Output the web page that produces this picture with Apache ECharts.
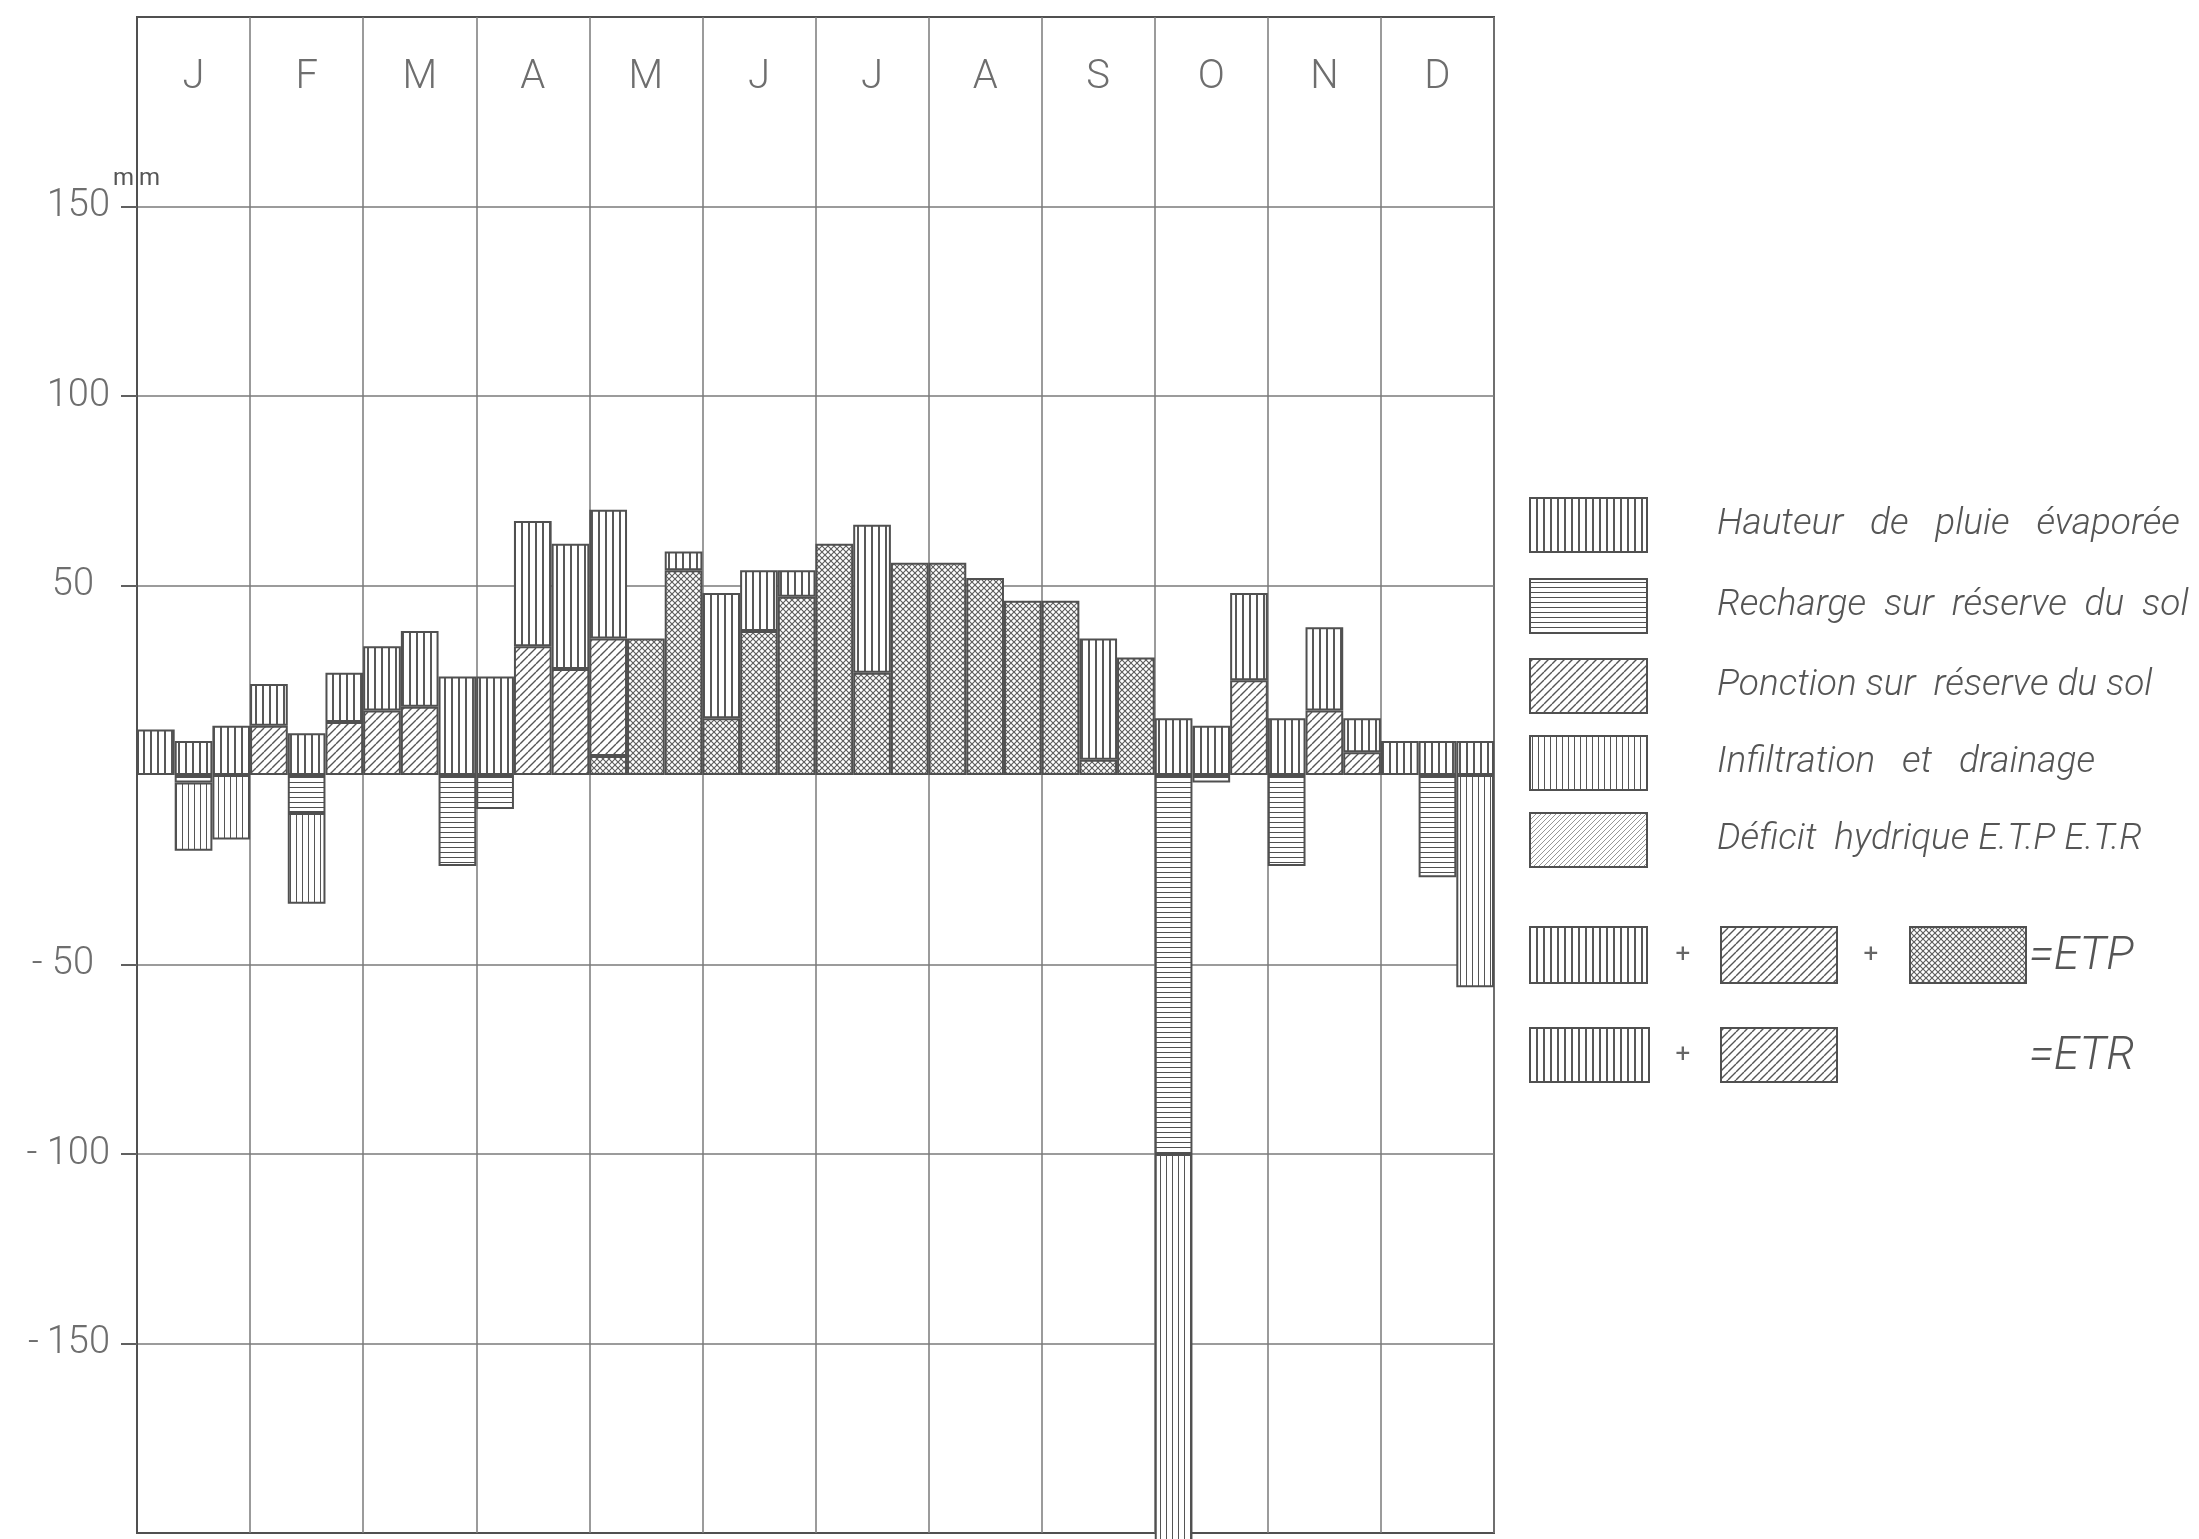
<!DOCTYPE html>
<html>
<head>
<meta charset="utf-8">
<script src="https://cdn.jsdelivr.net/npm/echarts@6/dist/echarts.min.js"></script>
<style>
  html, body { margin: 0; padding: 0; background: #fff; }
  #chart { width: 2199px; height: 1539px; }
</style>
</head>
<body>
<div id="chart"></div>
<script>
// Bilan hydrique par décade (3 décades par mois), en mm
const months = ['J', 'F', 'M', 'A', 'M', 'J', 'J', 'A', 'S', 'O', 'N', 'D'];
const decades = ['J1','J2','J3','F1','F2','F3','M1','M2','M3','A1','A2','A3',
                 'M1','M2','M3','J1','J2','J3','J1','J2','J3','A1','A2','A3',
                 'S1','S2','S3','O1','O2','O3','N1','N2','N3','D1','D2','D3'].map((d, i) => d + '_' + i);

// Déficit hydrique (ETP - ETR)
const deficit     = [0, 0, 0,  0, 0, 0,  0, 0, 0,  0, 0, 0,
                     5, 36, 54,  15, 38, 47,  61, 27, 56,  56, 52, 46,
                     46, 4, 31,  0, 0, 0,  0, 0, 0,  0, 0, 0];
// Ponction sur réserve du sol
const ponction    = [0, 0, 0,  13, 0, 14,  17, 18, 0,  0, 34, 28,
                     31, 0, 0,  0, 0, 0,  0, 0, 0,  0, 0, 0,
                     0, 0, 0,  0, 0, 25,  0, 17, 6,  0, 0, 0];
// Hauteur de pluie évaporée
const pluieEvap   = [12, 9, 13,  11, 11, 13,  17, 20, 26,  26, 33, 33,
                     34, 0, 5,  33, 16, 7,  0, 39, 0,  0, 0, 0,
                     0, 32, 0,  15, 13, 23,  15, 22, 9,  9, 9, 9];
// Recharge sur réserve du sol (vers le bas)
const recharge    = [0, -2, 0,  0, -10, 0,  0, 0, -24,  -9, 0, 0,
                     0, 0, 0,  0, 0, 0,  0, 0, 0,  0, 0, 0,
                     0, 0, 0,  -100, -2, 0,  -24, 0, 0,  0, -27, 0];
// Infiltration et drainage (vers le bas)
const infiltration = [0, -18, -17,  0, -24, 0,  0, 0, 0,  0, 0, 0,
                      0, 0, 0,  0, 0, 0,  0, 0, 0,  0, 0, 0,
                      0, 0, 0,  -104, 0, 0,  0, 0, 0,  0, 0, -56];

const yTickValues = [-150, -100, -50, 50, 100, 150];
const yTickLabels = ['-\u2009150', '- 100', '- 50', '50', '100', '150'];

const legendLabels = [
  'Hauteur   de   pluie   évaporée',
  'Recharge  sur  réserve  du  sol',
  'Ponction sur  réserve du sol',
  'Infiltration   et   drainage',
  'Déficit  hydrique E.T.P E.T.R'
];

// ---- hatch patterns ----
function makeTile(w, h, draw) {
  const c = document.createElement('canvas');
  c.width = w; c.height = h;
  const ctx = c.getContext('2d');
  ctx.fillStyle = '#ffffff';
  ctx.fillRect(0, 0, w, h);
  draw(ctx, w, h);
  return { image: c, repeat: 'repeat' };
}
function diag(ctx, s, dir) {
  ctx.beginPath();
  for (let k = -1; k <= 1; k++) {
    if (dir > 0) { ctx.moveTo(k * s, s); ctx.lineTo(k * s + s, 0); }
    else { ctx.moveTo(k * s, 0); ctx.lineTo(k * s + s, s); }
  }
  ctx.stroke();
}
const patEvap = makeTile(7, 7, (ctx) => { ctx.fillStyle = '#585858'; ctx.fillRect(3, 0, 2, 7); });
const patInfil = makeTile(6, 6, (ctx) => { ctx.fillStyle = '#555555'; ctx.fillRect(2, 0, 1, 6); });
const patRecharge = makeTile(6, 5, (ctx) => { ctx.fillStyle = '#505050'; ctx.fillRect(0, 2, 6, 1); });
const patPonction = makeTile(8, 8, (ctx) => { ctx.strokeStyle = '#555555'; ctx.lineWidth = 1.4; diag(ctx, 8, 1); });
const patDeficit = makeTile(6, 6, (ctx) => {
  ctx.strokeStyle = '#5e5e5e'; ctx.lineWidth = 1.15; diag(ctx, 6, 1); diag(ctx, 6, -1);
});
const patLight = makeTile(5, 5, (ctx) => { ctx.strokeStyle = '#8a8a8a'; ctx.lineWidth = 0.9; diag(ctx, 5, 1); });

const numFont = 'Roboto, "DejaVu Sans", sans-serif';
const handFont = 'Roboto, "Open Sans", sans-serif';
const inkGray = '#6e6e6e';
const edge = '#505050';

const blank = v => (v === 0 ? '-' : v);

function barSeries(name, data, pattern) {
  return {
    name: name,
    type: 'bar',
    stack: 'bilan',
    xAxisIndex: 0,
    barCategoryGap: '0%',
    clip: false,
    data: data.map(blank),
    itemStyle: { color: pattern, borderColor: edge, borderWidth: 2 },
    emphasis: { disabled: true },
    animation: false
  };
}

const chart = echarts.init(document.getElementById('chart'), null, { renderer: 'canvas' });

const labelText = { fontSize: 38, fontWeight: 300, fontFamily: numFont, color: inkGray };

const option = {
  backgroundColor: '#ffffff',
  animation: false,
  grid: {
    left: 137, right: 705, top: 17, bottom: 6,
    show: true, borderColor: edge, borderWidth: 2, backgroundColor: 'transparent'
  },
  xAxis: [
    {
      type: 'category', data: decades, gridIndex: 0,
      axisLine: { show: false }, axisTick: { show: false },
      axisLabel: { show: false }, splitLine: { show: false }
    },
    {
      type: 'category', data: months, gridIndex: 0, position: 'top',
      axisLine: { show: false }, axisTick: { show: false },
      axisLabel: {
        inside: true, margin: 41, fontSize: 40, fontWeight: 300,
        fontFamily: numFont, color: inkGray
      },
      splitLine: { show: true, lineStyle: { color: '#7a7a7a', width: 1.5 } }
    }
  ],
  yAxis: {
    type: 'value', min: -200, max: 200, interval: 50,
    axisLine: { show: true, lineStyle: { color: edge, width: 2 } },
    axisTick: {
      show: true, length: 16, customValues: yTickValues,
      lineStyle: { color: '#606060', width: 2 }
    },
    axisLabel: {
      customValues: yTickValues,
      formatter: v => {
        const t = yTickLabels[yTickValues.indexOf(v)];
        return Math.abs(v) === 50 ? '{s|' + t + '}' : '{n|' + t + '}';
      },
      rich: {
        n: Object.assign({}, labelText),
        s: Object.assign({ padding: [0, 16, 0, 0] }, labelText)
      },
      margin: 27
    },
    splitLine: { show: true, lineStyle: { color: '#7a7a7a', width: 1.5 } }
  },
  series: [
    barSeries('Déficit hydrique', deficit, patDeficit),
    barSeries('Ponction sur réserve du sol', ponction, patPonction),
    barSeries('Hauteur de pluie évaporée', pluieEvap, patEvap),
    barSeries('Recharge sur réserve du sol', recharge, patRecharge),
    barSeries('Infiltration et drainage', infiltration, patInfil)
  ]
};
chart.setOption(option);

// ---- unit mark and legend block ----
const y150 = chart.convertToPixel({ yAxisIndex: 0 }, 150);
const swW = 117, swH = 54, swX = 1530;
const legendRows = [
  { top: 498, pat: patEvap },
  { top: 579, pat: patRecharge },
  { top: 659, pat: patPonction },
  { top: 736, pat: patInfil },
  { top: 813, pat: patLight }
];
const textStyle = (txt, x, y, size) => ({
  type: 'text', x: x, y: y,
  style: {
    text: txt, fontSize: size, fontStyle: 'italic', fontWeight: 300,
    fontFamily: handFont, fill: '#555555', verticalAlign: 'middle', align: 'left'
  }
});
const swatch = (x, y, w, h, pat) => ({
  type: 'rect', shape: { x: x, y: y, width: w, height: h },
  style: { fill: pat, stroke: edge, lineWidth: 2 }
});
const plus = (x, y) => ({
  type: 'text', x: x, y: y,
  style: { text: '+', fontSize: 26, fontFamily: numFont, fill: '#666', align: 'center', verticalAlign: 'middle' }
});

const elements = [
  {
    type: 'text', x: 113, y: y150 - 40,
    style: { text: 'm\u2009m', fontSize: 24, fontFamily: numFont, fill: '#555', verticalAlign: 'top' }
  }
];
legendRows.forEach((r, i) => {
  elements.push(swatch(swX, r.top, swW, swH, r.pat));
  elements.push(textStyle(legendLabels[i], 1717, r.top + swH / 2, 37));
});
// ETP = pluie évaporée + ponction + déficit
const r6 = 927, r7 = 1028;
elements.push(swatch(swX, r6, swW, 56, patEvap));
elements.push(plus(1683, r6 + 28));
elements.push(swatch(1721, r6, 116, 56, patPonction));
elements.push(plus(1871, r6 + 28));
elements.push(swatch(1910, r6, 116, 56, patDeficit));
elements.push(textStyle('=ETP', 2029, r6 + 30, 46));
// ETR = pluie évaporée + ponction
elements.push(swatch(swX, r7, 119, 54, patEvap));
elements.push(plus(1683, r7 + 27));
elements.push(swatch(1721, r7, 116, 54, patPonction));
elements.push(textStyle('=ETR', 2029, r7 + 29, 46));

chart.setOption({ graphic: { elements: elements } });
</script>
</body>
</html>
